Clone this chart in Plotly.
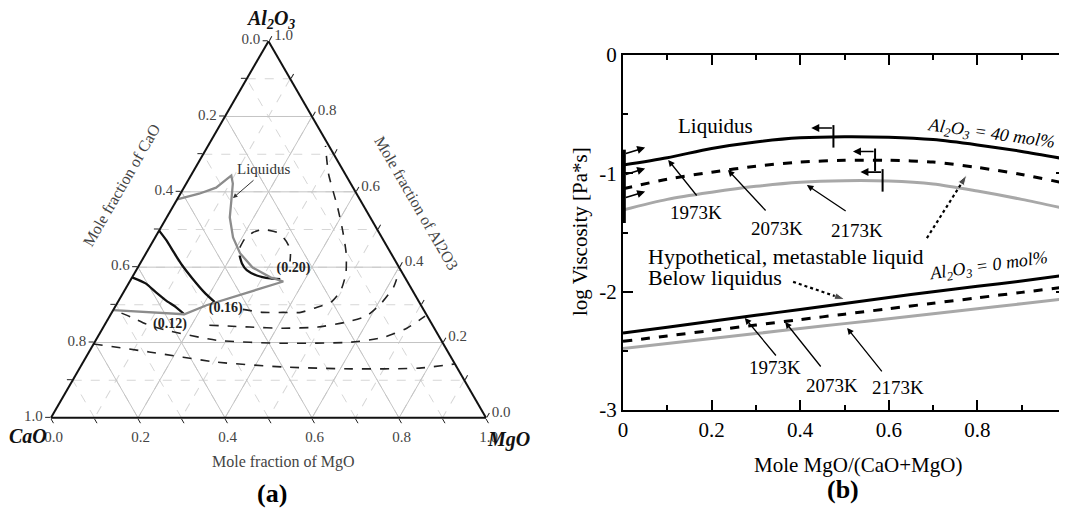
import numpy as np
import plotly.graph_objects as go

# ================= panel (a): ternary CaO - MgO - Al2O3 =================
# each curve: Al2O3 mole fraction and MgO mole fraction (CaO = 1 - Al2O3 - MgO)
liq_al = [0.580, 0.595, 0.611, 0.635, 0.643, 0.622, 0.582, 0.532, 0.479, 0.437, 0.399, 0.373, 0.362, 0.299, 0.275, 0.286]
liq_mg = [0.000, 0.043, 0.074, 0.088, 0.093, 0.107, 0.124, 0.145, 0.179, 0.216, 0.264, 0.318, 0.353, 0.208, 0.169, 0.000]

iso012_solid_al = [0.373, 0.357, 0.333, 0.312, 0.294, 0.275]
iso012_solid_mg = [0.000, 0.039, 0.075, 0.108, 0.140, 0.169]
iso016_solid_al = [0.497, 0.471, 0.439, 0.405, 0.370, 0.333, 0.307]
iso016_solid_mg = [0.000, 0.030, 0.063, 0.099, 0.140, 0.186, 0.223]
iso020_solid_al = [0.431, 0.410, 0.392, 0.378, 0.370, 0.368]
iso020_solid_mg = [0.218, 0.234, 0.254, 0.284, 0.319, 0.343]

iso020_dash_al = [0.452, 0.476, 0.492, 0.500, 0.492, 0.476, 0.458, 0.437, 0.415]
iso020_dash_mg = [0.208, 0.208, 0.218, 0.237, 0.274, 0.298, 0.317, 0.332, 0.342]
iso016_dash_al = [0.288, 0.280, 0.280, 0.280, 0.291, 0.307, 0.339, 0.384, 0.437, 0.497, 0.558, 0.648, 0.722]
iso016_dash_mg = [0.297, 0.347, 0.394, 0.434, 0.459, 0.490, 0.497, 0.486, 0.460, 0.422, 0.380, 0.314, 0.270]
iso012_dash_al = [0.246, 0.241, 0.238, 0.241, 0.254, 0.270, 0.304, 0.347, 0.392]
iso012_dash_mg = [0.241, 0.337, 0.415, 0.493, 0.551, 0.590, 0.607, 0.614, 0.605]
iso008_dash_al = [0.278, 0.267, 0.246, 0.233, 0.206, 0.198, 0.201, 0.214, 0.238, 0.270]
iso008_dash_mg = [0.023, 0.052, 0.102, 0.148, 0.277, 0.435, 0.590, 0.659, 0.699, 0.725]
iso004_dash_al = [0.196, 0.175, 0.148, 0.135, 0.130, 0.132, 0.143]
iso004_dash_mg = [0.000, 0.138, 0.307, 0.467, 0.626, 0.781, 0.856]

contour_labels = ["(0.20)", "(0.16)", "(0.12)"]
contour_label_al = [0.397, 0.291, 0.249]
contour_label_mg = [0.359, 0.256, 0.149]

tern_ticks = [0.0, 0.1, 0.2, 0.3, 0.4, 0.5, 0.6, 0.7, 0.8, 0.9, 1.0]
major_grid = [0.2, 0.4, 0.6, 0.8]

# ================= panel (b): viscosity vs MgO/(CaO+MgO) =================
x_ratio = [0.0, 0.1, 0.2, 0.3, 0.4, 0.5, 0.6, 0.7, 0.8, 0.9, 1.0]
al40_1973 = [-0.93, -0.868, -0.79, -0.735, -0.70, -0.69, -0.695, -0.715, -0.76, -0.815, -0.88]
al40_2073 = [-1.13, -1.05, -0.99, -0.94, -0.905, -0.89, -0.89, -0.905, -0.95, -1.01, -1.085]
al40_2173 = [-1.31, -1.22, -1.16, -1.11, -1.075, -1.062, -1.065, -1.09, -1.15, -1.22, -1.30]
al0_1973 = [-2.35, -2.30, -2.25, -2.20, -2.15, -2.10, -2.05, -2.00, -1.955, -1.91, -1.86]
al0_2073 = [-2.42, -2.374, -2.328, -2.282, -2.236, -2.19, -2.144, -2.098, -2.052, -2.006, -1.96]
al0_2173 = [-2.48, -2.438, -2.396, -2.354, -2.312, -2.27, -2.228, -2.186, -2.144, -2.102, -2.06]

liquidus_x = [0.475, 0.569, 0.586]          # liquidus composition at 40 mol% Al2O3
liquidus_left_y = [-0.837, -1.014, -1.209]  # liquidus arrows at x = 0
temps = ["1973K", "2073K", "2173K"]

SERIF = "Liberation Serif"
# page body keeps an 8 px margin, so the figure is 8 px smaller on each axis
OFF = 8
W, H = 1067 - OFF, 514 - OFF

def px(x):
    return (x - OFF) / W

def py(y):
    return 1 - (y - OFF) / H

fig = go.Figure()

# ---- ternary grid: solid major lines ----
def cao(al, mg):
    return [max(0.0, 1 - a - m) for a, m in zip(al, mg)]

for k in major_grid:
    for aa, bb, cc in [([k, k], [1 - k, 0], [0, 1 - k]),
                       ([1 - k, 0], [k, k], [0, 1 - k]),
                       ([1 - k, 0], [0, 1 - k], [k, k])]:
        fig.add_trace(go.Scatterternary(a=aa, b=bb, c=cc, mode="lines",
                                        line=dict(color="#c4c4c4", width=1),
                                        showlegend=False, hoverinfo="skip"))

def tern_line(al, mg, color, width, dash=None):
    fig.add_trace(go.Scatterternary(
        a=al, b=cao(al, mg), c=mg, mode="lines",
        line=dict(color=color, width=width, dash=dash, shape="spline", smoothing=0.6),
        showlegend=False, hoverinfo="skip"))

for al, mg in [(iso020_dash_al, iso020_dash_mg), (iso016_dash_al, iso016_dash_mg),
               (iso012_dash_al, iso012_dash_mg), (iso008_dash_al, iso008_dash_mg),
               (iso004_dash_al, iso004_dash_mg)]:
    tern_line(al, mg, "#222222", 1.6, "dash")
for al, mg in [(iso012_solid_al, iso012_solid_mg), (iso016_solid_al, iso016_solid_mg),
               (iso020_solid_al, iso020_solid_mg)]:
    tern_line(al, mg, "#111111", 2.3)
fig.add_trace(go.Scatterternary(a=liq_al, b=cao(liq_al, liq_mg), c=liq_mg, mode="lines",
                                line=dict(color="#8c8c8c", width=2.3),
                                showlegend=False, hoverinfo="skip"))
fig.add_trace(go.Scatterternary(a=contour_label_al, b=cao(contour_label_al, contour_label_mg),
                                c=contour_label_mg, mode="text",
                                text=["<b>%s</b>" % t for t in contour_labels],
                                textfont=dict(family=SERIF, size=14, color="#222"),
                                showlegend=False, hoverinfo="skip"))

def tern_axis():
    return dict(
        title=dict(text=""),
        tickmode="array", tickvals=tern_ticks,
        ticktext=[("%.1f" % (1 - v)) if round(v * 10) % 2 == 0 else "" for v in tern_ticks],
        ticks="outside", ticklen=5, tickwidth=1, tickcolor="#222",
        tickfont=dict(family=SERIF, size=15, color="#444"),
        showline=True, linecolor="#111", linewidth=2,
        showgrid=True, gridcolor="#d6d6d6", gridwidth=1, griddash="dash",
    )

fig.update_layout(ternary=dict(
    sum=1,
    domain=dict(x=[px(51), px(486)], y=[py(418), py(41)]),
    bgcolor="white",
    aaxis=tern_axis(), baxis=tern_axis(), caxis=tern_axis(),
))

# ---- panel (b) curves ----
def xy_line(y, color, dash=None):
    fig.add_trace(go.Scatter(x=x_ratio, y=y, mode="lines",
                             line=dict(color=color, width=3, dash=dash, shape="spline", smoothing=0.8),
                             showlegend=False, hoverinfo="skip", xaxis="x", yaxis="y"))

xy_line(al40_1973, "#000000")
xy_line(al40_2073, "#000000", "dash")
xy_line(al40_2173, "#a8a8a8")
xy_line(al0_1973, "#000000")
xy_line(al0_2073, "#000000", "dash")
xy_line(al0_2173, "#a8a8a8")

fig.update_layout(
    xaxis=dict(domain=[px(623), px(1066)], range=[0, 1], automargin=False,
               tickmode="array", tickvals=[0, 0.2, 0.4, 0.6, 0.8, 1.0],
               ticktext=["0", "0.2", "0.4", "0.6", "0.8", "1"],
               ticks="inside", ticklen=10, tickwidth=1.5, tickcolor="black",
               minor=dict(dtick=0.1, ticks="inside", ticklen=5, tickwidth=1.5, tickcolor="black"),
               showline=True, linecolor="black", linewidth=2, mirror="ticks",
               showgrid=False, zeroline=False,
               tickfont=dict(family=SERIF, size=21, color="black")),
    yaxis=dict(domain=[py(410), py(55)], range=[-3, 0], automargin=False,
               tickmode="array", tickvals=[-3, -2, -1, 0], ticktext=["-3", "-2", "-1", "0"],
               ticks="inside", ticklen=10, tickwidth=1.5, tickcolor="black",
               minor=dict(dtick=0.5, ticks="inside", ticklen=5, tickwidth=1.5, tickcolor="black"),
               showline=True, linecolor="black", linewidth=2, mirror="ticks",
               showgrid=False, zeroline=False,
               tickfont=dict(family=SERIF, size=21, color="black")),
)

# liquidus bars and arrows
ann = []
shapes = []
curves40 = [al40_1973, al40_2073, al40_2173]
for xl, curve in zip(liquidus_x, curves40):
    yc = float(np.interp(xl, x_ratio, curve))
    shapes.append(dict(type="line", xref="x", yref="y", x0=xl, x1=xl, y0=yc + 0.1, y1=yc - 0.09,
                       line=dict(color="black", width=2)))
    ann.append(dict(xref="x", yref="y", axref="x", ayref="y", x=xl - 0.05, y=yc + 0.075,
                    ax=xl, ay=yc + 0.075, text="", showarrow=True, arrowhead=2,
                    arrowsize=1, arrowwidth=1.6, arrowcolor="black"))
shapes.append(dict(type="line", xref="x", yref="y", x0=0.003, x1=0.003, y0=-0.80, y1=-1.42,
                   line=dict(color="black", width=3)))
for yl in liquidus_left_y:
    ann.append(dict(xref="x", yref="y", axref="x", ayref="y", x=0.05, y=yl + 0.055,
                    ax=0.003, ay=yl, text="", showarrow=True, arrowhead=2,
                    arrowsize=1, arrowwidth=1.6, arrowcolor="black"))

# temperature labels with arrows (upper and lower families)
upper_text = [(0.165, -1.33), (0.348, -1.47), (0.528, -1.48)]
upper_tail = [(0.169, -1.20), (0.325, -1.327), (0.506, -1.327)]
upper_head = [(0.102, -0.887), (0.237, -0.972), (0.415, -1.099)]
lower_text = [(0.343, -2.645), (0.472, -2.789), (0.621, -2.806)]
lower_tail = [(0.348, -2.552), (0.449, -2.645), (0.587, -2.687)]
lower_head = [(0.275, -2.222), (0.366, -2.256), (0.506, -2.307)]

def label(xref, x, y, text, size, color="black", angle=0, xanchor="center"):
    return dict(xref=xref, yref=xref.replace("x", "y") if xref != "paper" else "paper",
                x=x, y=y, text=text, showarrow=False, textangle=angle,
                xanchor=xanchor, yanchor="middle",
                font=dict(family=SERIF, size=size, color=color))

for texts, tails, heads in [(upper_text, upper_tail, upper_head), (lower_text, lower_tail, lower_head)]:
    for t, (tx, ty), (ax_, ay_), (hx, hy) in zip(temps, texts, tails, heads):
        ann.append(label("x", tx, ty, t, 19))
        ann.append(dict(xref="x", yref="y", axref="x", ayref="y", x=hx, y=hy, ax=ax_, ay=ay_,
                        text="", showarrow=True, arrowhead=2, arrowsize=1, arrowwidth=1.3,
                        arrowcolor="black"))

ann += [
    label("x", 0.208, -0.6, "Liquidus", 21),
    label("x", 0.831, -0.676, "<i>Al<sub>2</sub>O<sub>3</sub> = 40 mol%</i>", 18, angle=8),
    label("x", 0.826, -1.79, "<i>Al<sub>2</sub>O<sub>3</sub> = 0 mol%</i>", 18, angle=-8),
    label("x", 0.053, -1.705, "Hypothetical, metastable liquid", 22, xanchor="left"),
    label("x", 0.053, -1.88, "Below liquidus", 22, xanchor="left"),
]

# dotted pointer arrows
dotted = [([0.686, 0.776], [-1.547, -1.014]), ([0.384, 0.501], [-1.917, -2.066])]
for xs, ys in dotted:
    fig.add_trace(go.Scatter(x=xs, y=ys, mode="lines+markers",
                             line=dict(color="black", width=2.2, dash="dot"),
                             marker=dict(symbol="arrow", angleref="previous", size=[0, 11], color="black"),
                             showlegend=False, hoverinfo="skip"))

# axis titles, vertex labels and panel letters
ann += [
    label("paper", px(858), py(465), "Mole MgO/(CaO+MgO)", 21),
    label("paper", px(580), py(232), "log Viscosity [Pa*s]", 21, angle=-90),
    label("paper", px(270), py(20), "<b><i>Al<sub>2</sub>O<sub>3</sub></i></b>", 20, "#111"),
    label("paper", px(28), py(436), "<b><i>CaO</i></b>", 20, "#111"),
    label("paper", px(508), py(439), "<b><i>MgO</i></b>", 20, "#111"),
    label("paper", px(263), py(169), "Liquidus", 15, "#333"),
    dict(xref="paper", yref="paper", x=px(233), y=py(198), ax=22, ay=-19, text="",
         showarrow=True, arrowhead=2, arrowsize=0.9, arrowwidth=1, arrowcolor="#333"),
    label("paper", px(121), py(185), "Mole fraction of CaO", 16, "#444", angle=-60),
    label("paper", px(417), py(203), "Mole fraction of Al2O3", 16, "#444", angle=60),
    label("paper", px(283), py(462), "Mole fraction of MgO", 16, "#444"),
    label("paper", px(272), py(493), "<b>(a)</b>", 26),
    label("paper", px(843), py(489), "<b>(b)</b>", 26),
]

fig.update_layout(width=W, height=H, margin=dict(l=0, r=0, t=0, b=0, autoexpand=False),
                  paper_bgcolor="white", plot_bgcolor="white",
                  annotations=ann, shapes=shapes, showlegend=False)

fig.write_html("out.html")
